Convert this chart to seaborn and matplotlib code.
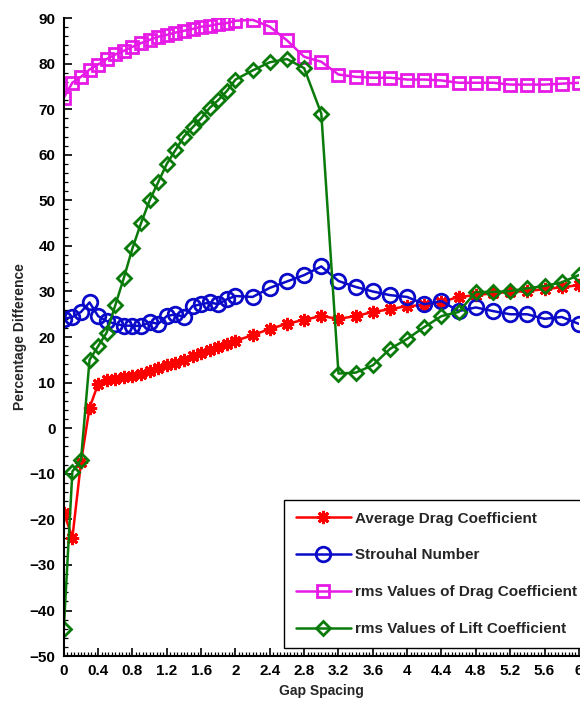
import numpy as np
import pandas as pd
import matplotlib
matplotlib.use("Agg")
import matplotlib.pyplot as plt
import seaborn as sns
from matplotlib.ticker import MultipleLocator, FixedLocator

# ---- data ----
gap = [0, 0.1, 0.2, 0.3, 0.4, 0.5, 0.6, 0.7, 0.8, 0.9, 1.0, 1.1, 1.2, 1.3, 1.4,
       1.5, 1.6, 1.7, 1.8, 1.9, 2.0, 2.2, 2.4, 2.6, 2.8, 3.0, 3.2, 3.4, 3.6, 3.8,
       4.0, 4.2, 4.4, 4.6, 4.8, 5.0, 5.2, 5.4, 5.6, 5.8, 6.0]

avg_drag = [-18.5, -24, -7.5, 4.5, 9.7, 10.5, 10.9, 11.2, 11.5, 12.0, 12.5, 13.2,
            13.8, 14.4, 15.0, 15.8, 16.5, 17.2, 17.9, 18.5, 19.2, 20.4, 21.8, 22.9,
            23.8, 24.6, 24.0, 24.6, 25.5, 26.1, 26.8, 27.0, 27.7, 28.8, 29.2, 29.6,
            29.9, 30.1, 30.5, 30.9, 31.4]

strouhal = [24.0, 24.4, 25.5, 27.6, 24.6, 23.5, 22.9, 22.5, 22.5, 22.4, 23.3, 22.9,
            24.6, 25.0, 24.4, 26.8, 27.2, 27.6, 27.2, 28.3, 29.0, 28.8, 30.8, 32.2,
            33.6, 35.5, 32.3, 31.0, 30.0, 29.2, 28.8, 27.2, 27.9, 25.7, 26.5, 25.7,
            25.0, 25.0, 24.0, 24.4, 22.9]

rms_drag = [72.5, 75.8, 77.1, 78.7, 79.8, 81.0, 82.0, 82.8, 83.7, 84.5, 85.2, 85.9,
            86.3, 86.8, 87.2, 87.6, 88.1, 88.3, 88.7, 88.9, 89.4, 89.6, 88.1, 85.1,
            81.5, 80.4, 77.6, 77.1, 76.9, 76.9, 76.5, 76.5, 76.3, 75.8, 75.8, 75.8,
            75.4, 75.4, 75.4, 75.6, 75.8]

rms_lift = [-44.0, -9.5, -7.0, 15.0, 18.0, 21.0, 27.0, 33.0, 39.5, 45.0, 50.0, 54.0,
            58.0, 61.0, 64.0, 66.0, 68.0, 70.3, 72.0, 74.0, 76.5, 78.5, 80.3, 81.0,
            79.0, 69.0, 12.0, 12.2, 13.8, 17.4, 19.6, 22.2, 24.6, 25.5, 29.9, 29.9,
            30.1, 30.7, 31.2, 32.0, 33.6]

labels = ["Average Drag Coefficient", "Strouhal Number",
          "rms Values of Drag Coefficient", "rms Values of Lift Coefficient"]
x_ticks = [0, 0.4, 0.8, 1.2, 1.6, 2, 2.4, 2.8, 3.2, 3.6, 4, 4.4, 4.8, 5.2, 5.6, 6]
x_tick_labels = ["0", "0.4", "0.8", "1.2", "1.6", "2", "2.4", "2.8", "3.2", "3.6",
                 "4", "4.4", "4.8", "5.2", "5.6", "6"]
y_ticks = list(range(-50, 91, 10))

# ---- plot ----
sns.set_theme(style="white")
plt.rcParams['font.family'] = ['Liberation Sans', 'DejaVu Sans']

fig = plt.figure(figsize=(5.8, 7.07), dpi=100)
ax = fig.add_axes([0.110, 0.072, 0.888, 0.9025])

series = [avg_drag, strouhal, rms_drag, rms_lift]
colors = ["#ff0000", "#0a0ac8", "#e619e6", "#0a7a0a"]
markers = [(8, 2, 0), "o", "s", "D"]
msizes = [9.5, 10.5, 8.5, 7.5]
mfcs = ["#ff0000", "none", "none", "none"]

for vals, lab, c, m, ms, mfc in zip(series, labels, colors, markers, msizes, mfcs):
    sns.lineplot(x=gap, y=vals, ax=ax, color=c, marker=m, markersize=ms,
                 markerfacecolor=mfc, markeredgecolor=c, markeredgewidth=2.0,
                 linewidth=1.8, label=lab, sort=False, errorbar=None)

ax.set_xlim(0, 6)
ax.set_ylim(-50, 90)
ax.xaxis.set_major_locator(FixedLocator(x_ticks))
ax.set_xticklabels(x_tick_labels)
ax.xaxis.set_minor_locator(MultipleLocator(0.04))
ax.yaxis.set_major_locator(FixedLocator(y_ticks))
ax.yaxis.set_minor_locator(MultipleLocator(2))

ax.tick_params(axis='both', which='major', direction='in', length=6, width=1.2,
               labelsize=11, colors='black', pad=6)
ax.tick_params(axis='both', which='minor', direction='in', length=3, width=0.9,
               colors='black')
ax.tick_params(axis='x', which='both', bottom=True, top=False)
ax.tick_params(axis='y', which='both', left=True, right=False)
for lbl in ax.get_xticklabels() + ax.get_yticklabels():
    lbl.set_fontweight('bold')

ax.spines['top'].set_visible(False)
ax.spines['right'].set_visible(False)
for s in ['left', 'bottom']:
    ax.spines[s].set_color('black')
    ax.spines[s].set_linewidth(1.5)

ax.set_xlabel("Gap Spacing", fontsize=10, fontweight='bold', labelpad=4)
ax.set_ylabel("Percentage Difference", fontsize=10, fontweight='bold', labelpad=2)

leg = ax.legend(loc='upper left', bbox_to_anchor=(0.428, 0.2445), frameon=True,
                fancybox=False, edgecolor='black', framealpha=1,
                prop={'weight': 'bold', 'size': 11}, handlelength=3.6,
                labelspacing=1.5, borderpad=0.75, handletextpad=0.3,
                borderaxespad=0)
leg.get_frame().set_linewidth(1.0)

fig.savefig("out.png", dpi=100)
